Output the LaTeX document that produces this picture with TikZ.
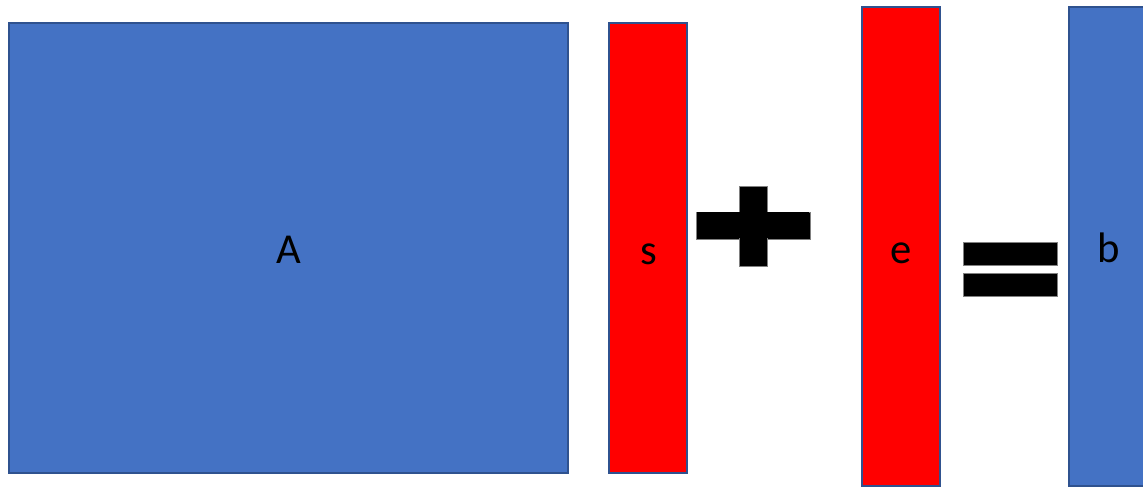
\documentclass[tikz,border=0pt]{standalone}
\usepackage{fontspec}
\setmainfont{Carlito}
\definecolor{fillblue}{HTML}{4472C4}
\definecolor{edgeblue}{HTML}{2F528F}
\definecolor{barred}{HTML}{FF0000}
\tikzset{
  mat/.style={draw=edgeblue, line width=1.6pt, inner sep=0pt},
  lab/.style={anchor=base, inner sep=0pt, font=\fontsize{32}{36}\selectfont, text=black},
  bar/.style={draw=gray, line width=0.5pt, fill=black, inner sep=0pt},
}
\begin{document}
\begin{tikzpicture}[x=0.75pt,y=-0.75pt]
\useasboundingbox (0,0) rectangle (1143,488);
\clip (0,0) rectangle (1143,488);
\node[mat, fill=fillblue, minimum width=419.25pt, minimum height=337.5pt] (A) at (288.5,248) {};
\node[mat, fill=barred, minimum width=58.5pt, minimum height=337.5pt] (s) at (648,248) {};
\node[bar, minimum width=85.5pt, minimum height=20.25pt] (plush) at (753,225.5) {};
\node[bar, minimum width=21pt, minimum height=60pt] (plusv) at (753,226) {};
\node[bar, draw=none, minimum width=84.5pt, minimum height=19.5pt] (plusc) at (753,225.5) {};
\node[mat, fill=barred, minimum width=58.5pt, minimum height=359.25pt] (e) at (901,246.5) {};
\node[bar, minimum width=70.5pt, minimum height=17.25pt] (eq1) at (1010,253.5) {};
\node[bar, minimum width=70.5pt, minimum height=17.25pt] (eq2) at (1010,285) {};
\node[mat, fill=fillblue, minimum width=58.5pt, minimum height=359.25pt] (b) at (1108,246.5) {};
\node[lab] (Atext) at (289,264) {A};
\node[lab] (stext) at (648.5,264.5) {s};
\node[lab] (etext) at (901.3,264) {e};
\node[lab] (btext) at (1108.5,263) {b};
\end{tikzpicture}
\end{document}
